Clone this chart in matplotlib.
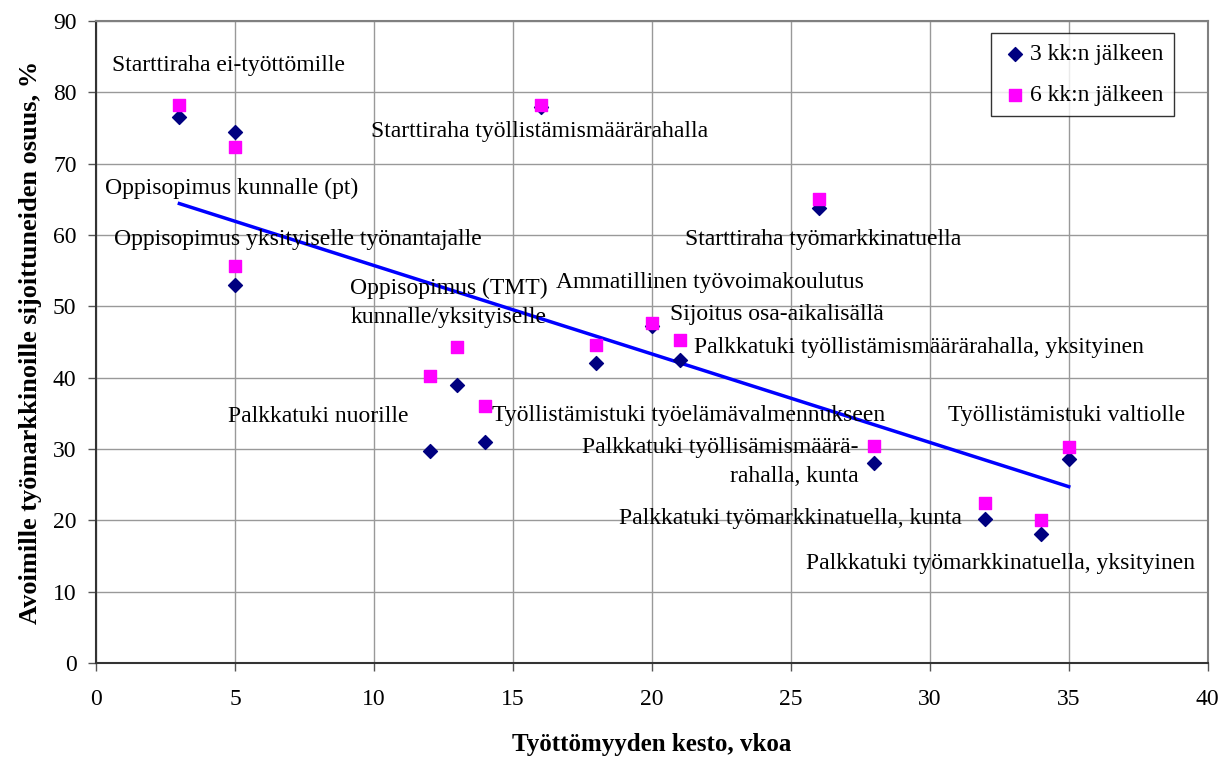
import numpy as np
import matplotlib.pyplot as plt

# weeks of unemployment before the measure
duration = [3, 5, 5, 16, 26, 12, 13, 14, 18, 20, 21, 28, 32, 34, 35]
# share placed in open labour market, %
after_3m = [76.5, 74.5, 53.0, 78.0, 63.8, 29.7, 39.0, 31.0, 42.0, 47.3, 42.5, 28.0, 20.2, 18.1, 28.6]
after_6m = [78.2, 72.3, 55.7, 78.2, 65.0, 40.2, 44.3, 36.0, 44.6, 47.6, 45.3, 30.4, 22.5, 20.0, 30.3]

labels = [
    "Starttiraha ei-työttömille",
    "Starttiraha työllistämismäärärahalla",
    "Oppisopimus kunnalle (pt)",
    "Oppisopimus yksityiselle työnantajalle",
    "Oppisopimus (TMT)\nkunnalle/yksityiselle",
    "Ammatillinen työvoimakoulutus",
    "Sijoitus osa-aikalisällä",
    "Palkkatuki työllistämismäärärahalla, yksityinen",
    "Starttiraha työmarkkinatuella",
    "Palkkatuki nuorille",
    "Työllistämistuki työelämävalmennukseen",
    "Työllistämistuki valtiolle",
    "Palkkatuki työllisämismäärä-\nrahalla, kunta",
    "Palkkatuki työmarkkinatuella, kunta",
    "Palkkatuki työmarkkinatuella, yksityinen",
]

# where each label sits (x, y, horizontal alignment)
label_pos = [
    (0.57, 83.8, "left"),
    (9.9, 74.5, "left"),
    (0.33, 66.6, "left"),
    (0.65, 59.3, "left"),
    (12.7, 50.5, "center"),
    (16.55, 53.4, "left"),
    (20.67, 48.9, "left"),
    (21.5, 44.2, "left"),
    (21.2, 59.3, "left"),
    (4.74, 34.6, "left"),
    (28.39, 34.7, "right"),
    (30.65, 34.7, "left"),
    (27.45, 28.2, "right"),
    (31.15, 20.3, "right"),
    (39.56, 14.0, "right"),
]

plt.rcParams['font.family'] = ['Liberation Serif', 'DejaVu Serif']

fig = plt.figure(figsize=(12.23, 7.63), dpi=100)
ax = fig.add_axes([0.0785, 0.131, 0.909, 0.8415])

ax.set_xlim(0, 40)
ax.set_ylim(0, 90)
ax.set_xticks(range(0, 41, 5))
ax.set_yticks(range(0, 91, 10))
ax.grid(True, color='#999999', linewidth=1.0)
ax.set_axisbelow(True)

for side in ['top', 'right']:
    ax.spines[side].set_color('#808080')
    ax.spines[side].set_linewidth(1.5)
for side in ['left', 'bottom']:
    ax.spines[side].set_color('#333333')
    ax.spines[side].set_linewidth(1.5)

ax.tick_params(labelsize=17, length=6, width=1, color='#555555', pad=8)
ax.tick_params(axis='x', pad=13)

# linear trend of the 3 month values
k, b = np.polyfit(duration, after_3m, 1)
xs = np.array([min(duration), max(duration)])
ax.plot(xs, k * xs + b, color='#0000ff', linewidth=2.5, zorder=2)

ax.scatter(duration, after_3m, marker='D', s=50, color='#000080', zorder=3, label='3 kk:n jälkeen')
ax.scatter(duration, after_6m, marker='s', s=70, color='#ff00ff', zorder=4, label='6 kk:n jälkeen')

for text, (lx, ly, ha) in zip(labels, label_pos):
    ax.text(lx, ly, text, fontsize=17, ha=ha, va='center', zorder=5,
            multialignment=ha, linespacing=1.5)

leg = ax.legend(loc='upper right', bbox_to_anchor=(0.970, 0.981), fontsize=17, frameon=True,
                fancybox=False, edgecolor='black', handletextpad=0.1, handlelength=1.1,
                borderpad=0.45, labelspacing=0.8, borderaxespad=0)
leg.get_frame().set_linewidth(1.0)

ax.set_xlabel('Työttömyyden kesto, vkoa', fontsize=18, fontweight='bold', labelpad=16)
ax.set_ylabel('Avoimille työmarkkinoille sijoittuneiden osuus, %', fontsize=19,
              fontweight='bold', labelpad=8)

fig.savefig('out.png', dpi=100)
